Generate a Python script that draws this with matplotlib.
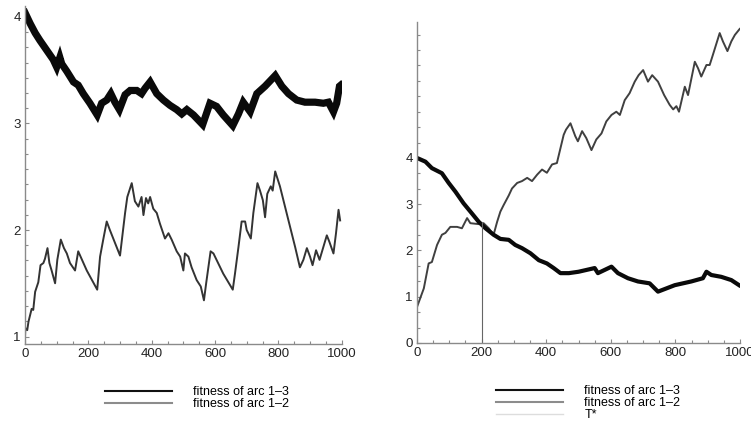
import matplotlib
matplotlib.use("Agg")
import matplotlib.pyplot as plt
from matplotlib.lines import Line2D
from matplotlib.ticker import AutoMinorLocator, MultipleLocator, FixedLocator

plt.rcParams['font.family'] = ['Liberation Sans', 'DejaVu Sans']

# left panel: fitness of arc 1-3 (black band) and arc 1-2 (gray)
left_t13 = [0, 16, 32, 47, 68, 89, 100, 110, 116, 132, 153, 168, 184, 205, 228, 242, 258, 271,
            284, 298, 316, 332, 353, 368, 379, 395, 416, 437, 458, 479, 495, 511, 532, 561, 584,
            605, 626, 656, 674, 689, 711, 732, 758, 790, 811, 832, 858, 884, 916, 942, 958, 974,
            984, 993, 997]
left_v13 = [4.04, 3.94, 3.85, 3.78, 3.69, 3.60, 3.53, 3.62, 3.56, 3.49, 3.39, 3.36, 3.28, 3.19,
            3.08, 3.19, 3.22, 3.28, 3.20, 3.13, 3.27, 3.31, 3.31, 3.28, 3.33, 3.39, 3.28, 3.22,
            3.17, 3.13, 3.09, 3.13, 3.08, 2.99, 3.19, 3.16, 3.08, 2.98, 3.09, 3.20, 3.11, 3.28,
            3.35, 3.45, 3.35, 3.28, 3.22, 3.20, 3.20, 3.19, 3.20, 3.11, 3.19, 3.35, 3.36]

left_t12 = [0, 1, 7, 11, 21, 26, 32, 42, 49, 58, 63, 71, 77, 84, 95, 102, 113, 123, 132, 142,
            158, 168, 195, 228, 237, 247, 258, 268, 300, 316, 323, 337, 347, 358, 368, 374, 382,
            389, 395, 405, 416, 426, 442, 453, 463, 479, 490, 500, 505, 516, 526, 542, 555, 565,
            572, 586, 595, 626, 656, 663, 674, 684, 695, 700, 713, 721, 734, 742, 751, 758, 765,
            776, 782, 790, 805, 826, 853, 868, 879, 890, 900, 908, 919, 930, 942, 953, 961, 974,
            982, 990, 995]
left_v12 = [1.00, 1.08, 1.06, 1.14, 1.26, 1.25, 1.42, 1.51, 1.67, 1.69, 1.73, 1.83, 1.69, 1.62,
            1.50, 1.72, 1.91, 1.83, 1.78, 1.69, 1.62, 1.80, 1.62, 1.44, 1.75, 1.91, 2.08, 2.00,
            1.76, 2.16, 2.31, 2.44, 2.27, 2.22, 2.31, 2.14, 2.30, 2.25, 2.31, 2.20, 2.16, 2.06,
            1.92, 1.97, 1.91, 1.80, 1.75, 1.62, 1.78, 1.75, 1.65, 1.53, 1.47, 1.34, 1.50, 1.80,
            1.78, 1.59, 1.44, 1.59, 1.84, 2.08, 2.08, 2.00, 1.92, 2.16, 2.44, 2.37, 2.28, 2.12,
            2.34, 2.41, 2.37, 2.55, 2.41, 2.16, 1.84, 1.65, 1.72, 1.83, 1.75, 1.67, 1.81, 1.72,
            1.84, 1.95, 1.89, 1.78, 1.97, 2.19, 2.09]

# right panel
right_t13 = [0, 26, 46, 77, 98, 119, 144, 170, 191, 212, 237, 258, 284, 304, 325, 351, 377, 402,
             423, 444, 470, 500, 550, 560, 602, 622, 653, 684, 720, 746, 798, 849, 885, 896, 911,
             942, 973, 997]
right_v13 = [4.00, 3.92, 3.78, 3.67, 3.46, 3.27, 3.02, 2.80, 2.62, 2.48, 2.34, 2.25, 2.23, 2.12,
             2.05, 1.94, 1.79, 1.72, 1.62, 1.51, 1.51, 1.54, 1.62, 1.51, 1.65, 1.51, 1.40, 1.33,
             1.29, 1.11, 1.25, 1.33, 1.40, 1.54, 1.47, 1.43, 1.36, 1.25]

right_t12 = [0, 21, 36, 46, 62, 77, 88, 103, 124, 139, 155, 165, 191, 206, 222, 237, 248, 258,
             268, 284, 294, 310, 325, 341, 356, 372, 387, 402, 418, 433, 444, 454, 461, 475, 490,
             498, 511, 524, 540, 555, 571, 586, 602, 617, 628, 643, 658, 674, 686, 700, 715, 728,
             746, 765, 782, 793, 803, 811, 829, 839, 860, 870, 880, 896, 906, 916, 937, 947, 961,
             973, 984, 999]
right_v12 = [0.78, 1.18, 1.72, 1.75, 2.12, 2.34, 2.38, 2.51, 2.51, 2.48, 2.70, 2.59, 2.57, 2.59,
             2.48, 2.34, 2.62, 2.84, 2.98, 3.19, 3.34, 3.46, 3.50, 3.57, 3.50, 3.64, 3.75, 3.68,
             3.86, 3.89, 4.21, 4.50, 4.61, 4.75, 4.47, 4.36, 4.58, 4.43, 4.17, 4.40, 4.53, 4.79,
             4.93, 5.00, 4.93, 5.25, 5.40, 5.65, 5.79, 5.90, 5.65, 5.79, 5.65, 5.36, 5.15, 5.05,
             5.12, 5.00, 5.54, 5.36, 6.08, 5.94, 5.76, 6.01, 6.01, 6.23, 6.70, 6.52, 6.31, 6.52,
             6.66, 6.79]

t_star = 200
t_star_value = 2.62

x_ticks = [0, 200, 400, 600, 800, 1000]
left_y_ticks = [1, 2, 3, 4]
right_y_ticks = [0, 1, 2, 3, 4]

label_13 = "fitness of arc 1\u20133"
label_12 = "fitness of arc 1\u20132"

fig = plt.figure(figsize=(7.51, 4.21), dpi=100)
ax1 = fig.add_axes([0.0333, 0.1829, 0.4217, 0.8021])
ax2 = fig.add_axes([0.5553, 0.1853, 0.4301, 0.7625])

axis_grey = '#8a8a8a'


def style_axes(ax):
    for side in ['top', 'right']:
        ax.spines[side].set_visible(False)
    for side in ['left', 'bottom']:
        ax.spines[side].set_color(axis_grey)
        ax.spines[side].set_linewidth(1.0)
    ax.tick_params(which='both', direction='in', color=axis_grey, labelsize=9.5,
                   labelcolor='#222222', width=0.8)
    ax.tick_params(which='major', length=3, pad=3)
    ax.tick_params(which='minor', length=2)
    ax.set_xticks(x_ticks)
    ax.xaxis.set_minor_locator(AutoMinorLocator(4))


# left panel
ax1.plot(left_t13, left_v13, color='#0a0a0a', lw=5.2, solid_joinstyle='miter')
ax1.plot(left_t12, left_v12, color='#333333', lw=1.4)
ax1.set_xlim(0, 1000)
ax1.set_ylim(0.93, 4.1)
style_axes(ax1)
ax1.set_yticks(left_y_ticks)
ax1.yaxis.set_minor_locator(AutoMinorLocator(7))

# right panel
ax2.plot(right_t12, right_v12, color='#404040', lw=1.4)
ax2.plot(right_t13, right_v13, color='#0a0a0a', lw=3.0)
ax2.plot([t_star, t_star], [0, t_star_value], color='#666666', lw=0.8)
ax2.set_xlim(0, 1000)
ax2.set_ylim(0, 6.94)
style_axes(ax2)
ax2.yaxis.set_major_locator(FixedLocator(right_y_ticks))
ax2.yaxis.set_minor_locator(MultipleLocator(1 / 3))

# legends
h13 = Line2D([], [], color='#111111', lw=1.5)
h12 = Line2D([], [], color='#8c8c8c', lw=1.5)
hts = Line2D([], [], color='#dddddd', lw=1.0)
leg_kw = dict(frameon=False, fontsize=9, handlelength=5.36, handletextpad=1.7,
              labelspacing=0.0, borderpad=0, borderaxespad=0, loc='upper left')
fig.legend([h13, h12], [label_13, label_12], bbox_to_anchor=(105 / 751, 1 - 386 / 421), **leg_kw)
fig.legend([h13, h12, hts], [label_13, label_12, "T*"],
           bbox_to_anchor=(496 / 751, 1 - 385 / 421), **leg_kw)

fig.savefig("out.png", dpi=100)
